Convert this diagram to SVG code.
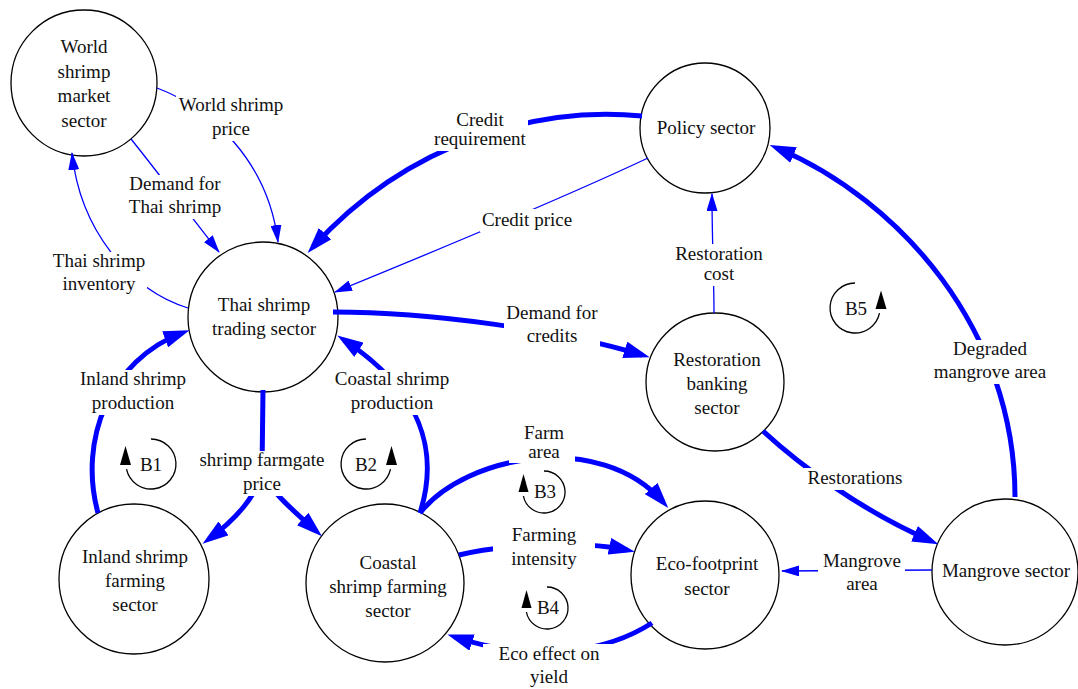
<svg xmlns="http://www.w3.org/2000/svg" width="1078" height="689" viewBox="0 0 1078 689">
<defs>
<style>
text{font-family:"Liberation Serif","Times New Roman",serif;font-size:19px;fill:#111;text-anchor:middle}
.nd{fill:#fff;stroke:#000;stroke-width:1.3}
.thin{fill:none;stroke:#00f;stroke-width:1.3;marker-end:url(#ah)}
.thick{fill:none;stroke:#00f;stroke-width:5;marker-end:url(#aH)}
.thickn{fill:none;stroke:#00f;stroke-width:5}
.lbg{fill:#fff}
.loop{fill:none;stroke:#000;stroke-width:1.3}
.lah{fill:#000}
</style>
<marker id="ah" markerUnits="userSpaceOnUse" markerWidth="18" markerHeight="11" viewBox="0 0 18 11" refX="17" refY="5.5" orient="auto"><path d="M0,0 L18,5.5 L0,11 z" fill="#00f"/></marker>
<marker id="aH" markerUnits="userSpaceOnUse" markerWidth="26" markerHeight="17" viewBox="0 0 26 17" refX="18" refY="8.5" orient="auto"><path d="M0,0 L26,8.5 L0,17 z" fill="#00f"/></marker>
</defs>
<rect width="1078" height="689" fill="#fff"/>
<g id="nodes">
<g id="node-world"><circle class="nd" cx="84" cy="83" r="73"/><text x="84" y="53">World</text><text x="84" y="77.5">shrimp</text><text x="84" y="102">market</text><text x="84" y="126.5">sector</text></g>
<g id="node-thai"><circle class="nd" cx="263" cy="317" r="75"/><text x="264" y="311">Thai shrimp</text><text x="264" y="335">trading sector</text></g>
<g id="node-policy"><circle class="nd" cx="705" cy="128" r="65"/><text x="706" y="134">Policy sector</text></g>
<g id="node-restoration"><circle class="nd" cx="715" cy="382" r="69"/><text x="717" y="366">Restoration</text><text x="717" y="390">banking</text><text x="717" y="414">sector</text></g>
<g id="node-inland"><circle class="nd" cx="134" cy="579" r="75"/><text x="135" y="563">Inland shrimp</text><text x="135" y="587">farming</text><text x="135" y="611">sector</text></g>
<g id="node-coastal"><circle class="nd" cx="385" cy="583" r="79"/><text x="388" y="569">Coastal</text><text x="388" y="593">shrimp farming</text><text x="388" y="617">sector</text></g>
<g id="node-eco"><circle class="nd" cx="705" cy="575" r="74"/><text x="707" y="570">Eco-footprint</text><text x="707" y="595">sector</text></g>
<g id="node-mangrove"><circle class="nd" cx="1005" cy="572" r="73"/><text x="1006" y="577">Mangrove sector</text></g>
</g>
<g id="connectors">
<path class="thin" d="M157,88 C210,108 268,160 278,242"/>
<path class="thin" d="M131,139 C160,175 195,222 219,252"/>
<path class="thin" d="M188,308 C130,290 80,230 72,153"/>
<path class="thick" d="M642,116 C540,106 410,140 313,247"/>
<path class="thin" d="M648,158 C580,190 450,245 335,292"/>
<path class="thick" d="M333,312 C430,312 560,330 642,355"/>
<path class="thick" d="M98,513 C78,440 110,360 182,333"/>
<path class="thick" d="M420,513 C440,450 420,390 344,340"/>
<path class="thickn" d="M263,390 L262,470"/>
<path class="thick" d="M262,470 C258,495 235,520 209,539"/>
<path class="thick" d="M262,470 C268,490 295,512 316,531"/>
<path class="thick" d="M420,513 C465,455 600,430 663,502"/>
<path class="thick" d="M459,555 C500,545 580,540 627,550"/>
<path class="thick" d="M652,623 C610,650 540,665 455,637"/>
<path class="thin" d="M714,313 C714,280 712,240 712,194"/>
<path class="thick" d="M763,431 C800,465 860,510 931,541"/>
<path class="thin" d="M932,570 L782,571"/>
<path class="thick" d="M1015,497 C1015,330 900,200 777,148"/>
<g id="edge-labels">
<rect class="lbg" x="176" y="96" width="110" height="45"/><text x="231" y="111">World shrimp</text><text x="231" y="135">price</text>
<rect class="lbg" x="127" y="175" width="96" height="44"/><text x="175" y="190">Demand for</text><text x="175" y="213">Thai shrimp</text>
<rect class="lbg" x="51" y="252" width="96" height="44"/><text x="99" y="267">Thai shrimp</text><text x="99" y="290">inventory</text>
<rect class="lbg" x="432" y="111" width="96" height="40"/><text x="480" y="126">Credit</text><text x="480" y="145">requirement</text>
<rect class="lbg" x="480" y="209" width="94" height="23"/><text x="527" y="226">Credit price</text>
<rect class="lbg" x="504" y="304" width="96" height="44"/><text x="552" y="319">Demand for</text><text x="552" y="342">credits</text>
<rect class="lbg" x="78" y="370" width="110" height="45"/><text x="133" y="385">Inland shrimp</text><text x="133" y="409">production</text>
<rect class="lbg" x="333" y="370" width="118" height="45"/><text x="392" y="385">Coastal shrimp</text><text x="392" y="409">production</text>
<rect class="lbg" x="198" y="451" width="128" height="45"/><text x="262" y="466">shrimp farmgate</text><text x="262" y="490">price</text>
<rect class="lbg" x="509" y="424" width="66" height="39"/><text x="544" y="439">Farm</text><text x="544" y="458">area</text>
<rect class="lbg" x="493" y="525" width="102" height="46"/><text x="544" y="541">Farming</text><text x="544" y="565">intensity</text>
<rect class="lbg" x="483" y="644" width="129" height="45"/><text x="549" y="660">Eco effect on</text><text x="549" y="683">yield</text>
<rect class="lbg" x="673" y="244" width="92" height="42"/><text x="719" y="260">Restoration</text><text x="719" y="280">cost</text>
<rect class="lbg" x="804" y="468" width="103" height="22"/><text x="855" y="484">Restorations</text>
<rect class="lbg" x="818" y="552" width="87" height="44"/><text x="862" y="567">Mangrove</text><text x="862" y="590">area</text>
<rect class="lbg" x="932" y="340" width="116" height="44"/><text x="990" y="355">Degraded</text><text x="990" y="378">mangrove area</text>
</g>
</g>
<g id="loops">
<g id="loop-b1"><path class="loop" d="M151,439 A25,25 0 1 1 126.5,469.2"/><polygon class="lah" points="125.5,446 120,465 131,465"/><text x="151" y="471">B1</text></g>
<g id="loop-b2"><path class="loop" d="M366,439 A25,25 0 1 0 390.5,469.2"/><polygon class="lah" points="391.5,446 386,465 397,465"/><text x="366" y="471">B2</text></g>
<g id="loop-b3"><path class="loop" d="M544,471 A21,21 0 1 1 523.4,496"/><polygon class="lah" points="523.5,474 518.5,492 528.5,492"/><text x="545" y="498">B3</text></g>
<g id="loop-b4"><path class="loop" d="M547,587 A21,21 0 1 1 526.4,612"/><polygon class="lah" points="526.5,590 521.5,608 531.5,608"/><text x="548" y="614">B4</text></g>
<g id="loop-b5"><path class="loop" d="M855,283 A25,25 0 1 0 879.5,313.2"/><polygon class="lah" points="881,290.5 875.5,309 886.5,309"/><text x="856" y="315">B5</text></g>
</g>
</svg>
